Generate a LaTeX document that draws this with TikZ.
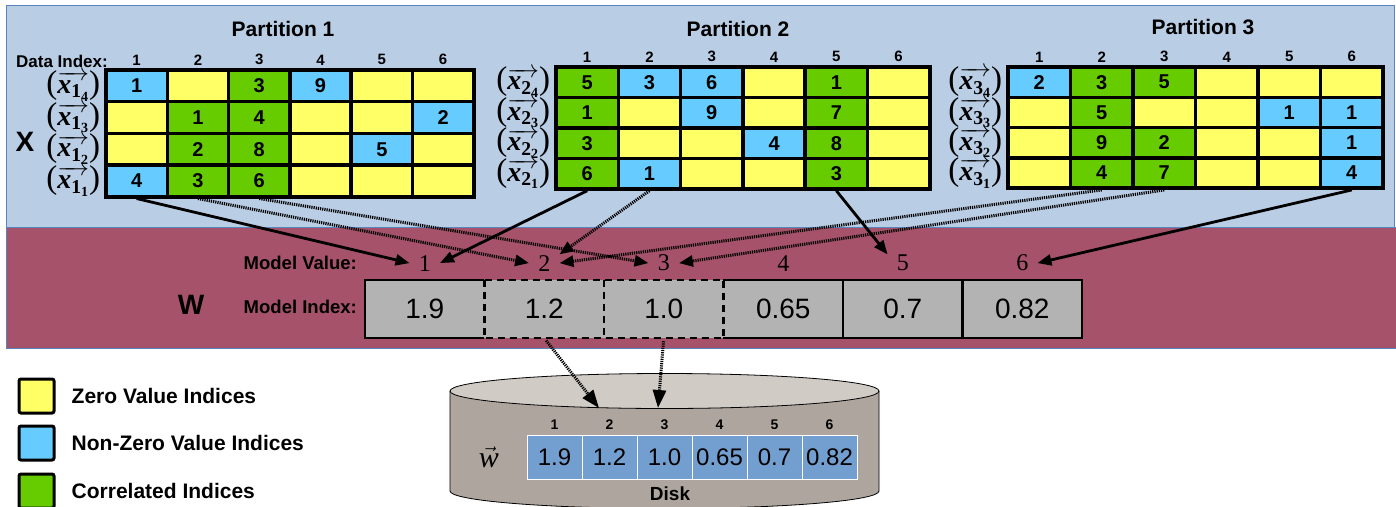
\documentclass[tikz,border=0pt]{standalone}
\usepackage{amsmath}
\usepackage[no-math]{fontspec}
\setmainfont{Liberation Sans}
\newfontfamily\serifnum{Liberation Serif}
\usepackage{tikz}
\usetikzlibrary{
  arrows.meta,   % Triangle 箭头
  positioning    % 节点相对定位
}
\definecolor{zeroyellow}{HTML}{FFFF66}
\definecolor{nzblue}{HTML}{66CCFF}
\definecolor{corrgreen}{HTML}{66CC00}
\definecolor{panelblue}{HTML}{B9CDE5}
\definecolor{panelred}{HTML}{A5526A}
\definecolor{edgeblue}{HTML}{5A84BC}
\definecolor{boxgray}{HTML}{B3B3B3}
\definecolor{diskcell}{HTML}{729FCF}
\definecolor{disktop}{HTML}{D1CBC6}
\definecolor{diskside}{HTML}{AEA69E}
% 向量符号：粗斜体 x，两级下标，括号用衬线字体放大
\newcommand{\vparen}[1]{{\serifnum\fontsize{33}{33}\selectfont #1}}
\newcommand{\xvec}[2]{%
  \vparen{(}$\overrightarrow{\hbox{\serifnum\bfseries\itshape x}%
    _{\text{\serifnum\bfseries #1}_{\text{\serifnum\bfseries #2}}}}$\vparen{)}}
\tikzset{
  cell/.style={
    draw,
    line width=3.5pt,
    inner sep=0pt,
    font=\fontsize{20}{22}\selectfont\bfseries
  },
  zcell/.style={fill=zeroyellow},
  ncell/.style={fill=nzblue},
  ccell/.style={fill=corrgreen},
  col num/.style={
    inner sep=0pt,
    font=\fontsize{15}{17}\selectfont\bfseries
  },
  row label/.style={
    inner sep=0pt,
    font=\fontsize{28}{30}\selectfont
  },
  part title/.style={font=\fontsize{21}{25}\selectfont\bfseries},
  side label/.style={
    anchor=east,
    inner sep=0pt,
    font=\fontsize{18.5}{22}\selectfont\bfseries
  },
  big letter/.style={font=\fontsize{28}{32}\selectfont\bfseries},
  model num/.style={
    inner sep=0pt,
    minimum width=30pt,
    minimum height=17pt,
    font=\serifnum\fontsize{24}{28}\selectfont
  },
  model box/.style={
    fill=boxgray,
    inner sep=0pt,
    minimum width=119.5pt,
    minimum height=58pt,
    font=\fontsize{28}{32}\selectfont
  },
  solid edge/.style={line width=2.5pt},
  dash edge/.style={line width=2.5pt, dash pattern=on 7pt off 5pt},
  solid arrow/.style={
    -{Triangle[length=14pt,width=11pt]},
    line width=2.8pt
  },
  dot arrow/.style={
    solid arrow,
    line width=3pt,
    dash pattern=on 1.2pt off 1pt
  },
  disk arrow/.style={
    dot arrow,
    -{Triangle[length=18pt,width=13pt]}
  },
  disk cell/.style={
    draw=white,
    line width=1pt,
    fill=diskcell,
    inner sep=0pt,
    minimum width=55pt,
    minimum height=44pt,
    font=\fontsize{24}{28}\selectfont
  },
  legend box/.style={
    draw,
    line width=3pt,
    rounded corners=2pt,
    minimum width=35pt,
    minimum height=34pt
  },
  legend text/.style={
    inner sep=0pt,
    font=\fontsize{21}{25}\selectfont\bfseries
  }
}

\begin{document}
\begin{tikzpicture}[x=1pt, y=-1pt]
    \useasboundingbox (0,0) rectangle (1396,506);

    % 背景：数据区与模型区
    \filldraw[fill=panelblue, draw=edgeblue, line width=1pt] (6,5) rectangle (1394,227);
    \filldraw[fill=panelred, draw=edgeblue, line width=1pt] (6,227) rectangle (1398,348);

    % 1. 第一个分区
    \begin{scope}[shift={(106,70)}]
      \def\cw{61.3}\def\ch{31.7}
      \foreach \rowcells [count=\k] in {%
          {ncell/1, zcell/{}, ccell/3, ncell/9, zcell/{}, zcell/{}},%
          {zcell/{}, ccell/1, ccell/4, zcell/{}, zcell/{}, ncell/2},%
          {zcell/{}, ccell/2, ccell/8, zcell/{}, ncell/5, zcell/{}},%
          {ncell/4, ccell/3, ccell/6, zcell/{}, zcell/{}, zcell/{}}}{
        \foreach \sty/\val [count=\j] in \rowcells
          \node[cell, \sty, minimum width={\cw*1pt}, minimum height={\ch*1pt}]
            (p1-\k-\j) at ({(\j-0.5)*\cw}, {(\k-0.5)*\ch}) {\val};
      }
    \end{scope}

    % 2. 第二个分区
    \begin{scope}[shift={(556,67)}]
      \def\cw{62.3}\def\ch{30.5}
      \foreach \rowcells [count=\k] in {%
          {ccell/5, ncell/3, ncell/6, zcell/{}, ccell/1, zcell/{}},%
          {ccell/1, zcell/{}, ncell/9, zcell/{}, ccell/7, zcell/{}},%
          {ccell/3, zcell/{}, zcell/{}, ncell/4, ccell/8, zcell/{}},%
          {ccell/6, ncell/1, zcell/{}, zcell/{}, ccell/3, zcell/{}}}{
        \foreach \sty/\val [count=\j] in \rowcells
          \node[cell, \sty, minimum width={\cw*1pt}, minimum height={\ch*1pt}]
            (p2-\k-\j) at ({(\j-0.5)*\cw}, {(\k-0.5)*\ch}) {\val};
      }
    \end{scope}

    % 3. 第三个分区
    \begin{scope}[shift={(1008,67)}]
      \def\cw{62.5}\def\ch{30.3}
      \foreach \rowcells [count=\k] in {%
          {ncell/2, ccell/3, ccell/5, zcell/{}, zcell/{}, zcell/{}},%
          {zcell/{}, ccell/5, zcell/{}, zcell/{}, ncell/1, ncell/1},%
          {zcell/{}, ccell/9, ccell/2, zcell/{}, zcell/{}, ncell/1},%
          {zcell/{}, ccell/4, ccell/7, zcell/{}, zcell/{}, ncell/4}}{
        \foreach \sty/\val [count=\j] in \rowcells
          \node[cell, \sty, minimum width={\cw*1pt}, minimum height={\ch*1pt}]
            (p3-\k-\j) at ({(\j-0.5)*\cw}, {(\k-0.5)*\ch}) {\val};
      }
    \end{scope}

    % 列号与行向量标签
    \foreach \p in {1,2,3} {
      \foreach \j in {1,...,6}
        \node[col num, above=3pt of p\p-1-\j] (h\p-\j) {\j};
      \foreach \k/\s in {1/4,2/3,3/2,4/1}
        \node[row label, left=4pt of p\p-\k-1] (x\p-\s) {\xvec{\p}{\s}};
    }

    % 标题
    \node[part title] (part1) at (283,29) {Partition 1};
    \node[part title] (part2) at (738,29) {Partition 2};
    \node[part title] (part3) at (1203,27) {Partition 3};
    \node[side label, font=\fontsize{17}{20}\selectfont\bfseries] (dataidx) at (108,61) {Data Index:};
    \node[big letter] (bigX) at (25,142) {X};

    % 模型向量
    \foreach \v [count=\i] in {1.9,1.2,1.0,0.65,0.7,0.82}
      \node[model box] (mb\i) at ({365+(\i-0.5)*119.5}, 309) {\v};
    \foreach \i in {1,...,6}
      \node[model num, above=8pt of mb\i] (mv\i) {\i};
    \draw[solid edge] (mb2.north west) -| (mb1.south west) -- (mb2.south west);
    \draw[solid edge] (mb4.north west) -- (mb6.north east) -- (mb6.south east) -- (mb4.south west);
    \draw[solid edge] (mb5.north west) -- (mb5.south west) (mb6.north west) -- (mb6.south west);
    \draw[dash edge] (mb2.north west) rectangle (mb3.south east) (mb3.north west) -- (mb3.south west);
    \node[side label] (mvlabel) at (357,263) {Model Value:};
    \node[side label] (milabel) at (357,307) {Model Index:};
    \node[big letter] (bigW) at (191,305) {W};

    % 数据到模型的映射
    \draw[solid arrow] (p1-4-1.south) -- (mv1.west);
    \draw[solid arrow] (p2-4-1.south) -- (mv1.east);
    \draw[solid arrow] (p2-4-5.south) -- (mv5.north west);
    \draw[solid arrow] (p3-4-6.south) -- (mv6.east);
    \draw[dot arrow] (p1-4-2.south) -- (mv2.west);
    \draw[dot arrow] (p1-4-3.south) -- (mv3.west);
    \draw[dot arrow] (p2-4-2.south) -- (mv2.north east);
    \draw[dot arrow] (p3-4-2.south) -- (mv2.east);
    \draw[dot arrow] (p3-4-3.south) -- (mv3.east);

    % 磁盘
    \filldraw[fill=diskside, draw=black, line width=0.8pt]
      (450,391) -- (450,491)
      arc[start angle=180, end angle=360, x radius=214.5pt, y radius=17.5pt]
      -- (879,391);
    \filldraw[fill=disktop, draw=black, line width=0.8pt]
      (664.5,391) ellipse[x radius=214.5pt, y radius=17.5pt];
    \foreach \v [count=\i] in {1.9,1.2,1.0,0.65,0.7,0.82} {
      \node[disk cell] (dc\i) at ({527+(\i-0.5)*55}, 457) {\v};
      \node[col num, font=\fontsize{14}{16}\selectfont\bfseries, above=5pt of dc\i] (dh\i) {\i};
    }
    \node[font=\fontsize{30}{32}\selectfont, left=24pt of dc1] (wvec) {$\vec{\hbox{\serifnum\itshape w}}$};
    \node[font=\fontsize{19}{22}\selectfont\bfseries] (disklbl) at (670,494) {Disk};
    \coordinate (drop2) at (599,408);
    \coordinate (drop3) at (658,408);
    \draw[disk arrow, shorten <=3pt] (mb2.south) -- (drop2);
    \draw[disk arrow, shorten <=3pt] (mb3.south) -- (drop3);

    % 图例
    \node[legend box, fill=zeroyellow] (lg1) at (36.5,396) {};
    \node[legend box, fill=nzblue] (lg2) at (36.5,443) {};
    \node[legend box, fill=corrgreen] (lg3) at (36.5,491) {};
    \node[legend text, right=16pt of lg1] (lt1) {Zero Value Indices};
    \node[legend text, right=16pt of lg2] (lt2) {Non-Zero Value Indices};
    \node[legend text, right=16pt of lg3] (lt3) {Correlated Indices};

\end{tikzpicture}
\end{document}
